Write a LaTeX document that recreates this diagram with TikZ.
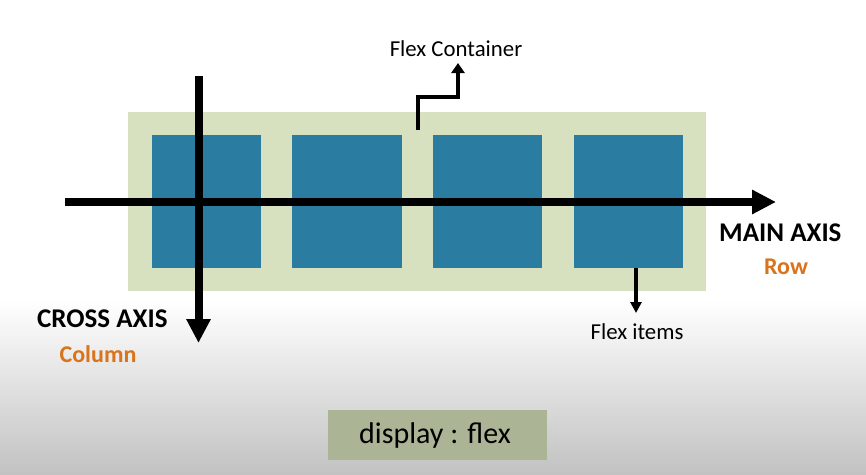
\documentclass[tikz,border=0pt]{standalone}
\usepackage{fontspec}
\setmainfont{Carlito}
\usetikzlibrary{arrows.meta}
\definecolor{contgreen}{HTML}{D7E1BF}
\definecolor{itemblue}{HTML}{2A7CA0}
\definecolor{axisorange}{HTML}{D9731C}
\definecolor{dispgreen}{HTML}{ABB595}
\tikzset{
  flexitem/.style={fill=itemblue, draw=none, minimum width=109.5pt, minimum height=133pt, inner sep=0pt},
  axisline/.style={line width=8pt, -{Triangle[length=24pt,width=23pt]}},
  thinarrow/.style={line width=4pt, -{Triangle[length=10pt,width=13pt]}},
  axislabel/.style={font=\fontsize{27}{30}\selectfont\bfseries, anchor=base west, inner sep=0pt},
  sublabel/.style={font=\fontsize{24}{27}\selectfont\bfseries, text=axisorange, anchor=base, inner sep=0pt},
  plainlabel/.style={font=\fontsize{22.8}{27}\selectfont, anchor=base, inner sep=0pt}
}
\begin{document}
\begin{tikzpicture}[x=1pt,y=-1pt]
\useasboundingbox (0,0) rectangle (866,474);
% background
\fill[white] (0,0) rectangle (866,474);
\shade[top color=white, bottom color=black!24, draw=none] (0,300) rectangle (866,474);
% container
\node[fill=contgreen, minimum width=578pt, minimum height=179pt, inner sep=0pt] (container) at (417,201.5) {};
% items
\node[flexitem] (item1) at (206.5,201.5) {};
\node[flexitem] (item2) at (347,201.5) {};
\node[flexitem] (item3) at (487.5,201.5) {};
\node[flexitem] (item4) at (628.5,201.5) {};
% axes
\coordinate (mainstart) at (65,202);
\coordinate (mainend) at (776,202);
\coordinate (crossstart) at (198.5,76);
\coordinate (crossend) at (198.5,343);
\draw[axisline] (mainstart) -- (mainend);
\draw[axisline] (crossstart) -- (crossend);
% labels
\node[plainlabel] (fclabel) at (456,56) {Flex Container};
\node[axislabel] (mainlabel) at (719,241) {MAIN AXIS};
\node[sublabel] (rowlabel) at (786,274) {Row};
\node[axislabel] (crosslabel) at (37,327) {CROSS AXIS};
\node[sublabel] (collabel) at (98,362) {Column};
\node[plainlabel] (filabel) at (637,339) {Flex items};
% flex container pointer
\coordinate (fcstart) at (418,130);
\coordinate (fcend) at (458,63);
\draw[thinarrow] (fcstart) -- (418,97) -| (fcend);
% flex items pointer
\coordinate (fistart) at (636,268);
\coordinate (fiend) at (636,313);
\draw[line width=3.5pt, -{Triangle[length=11pt,width=11pt]}] (fistart) -- (fiend);
% display flex box
\node[fill=dispgreen, minimum width=219pt, minimum height=50pt, inner sep=0pt] (dispbox) at (437.5,435) {};
\node[font=\fontsize{30}{34}\selectfont, anchor=base, inner sep=0pt] (disptext) at (435,443) {display : flex};
\end{tikzpicture}
\end{document}
